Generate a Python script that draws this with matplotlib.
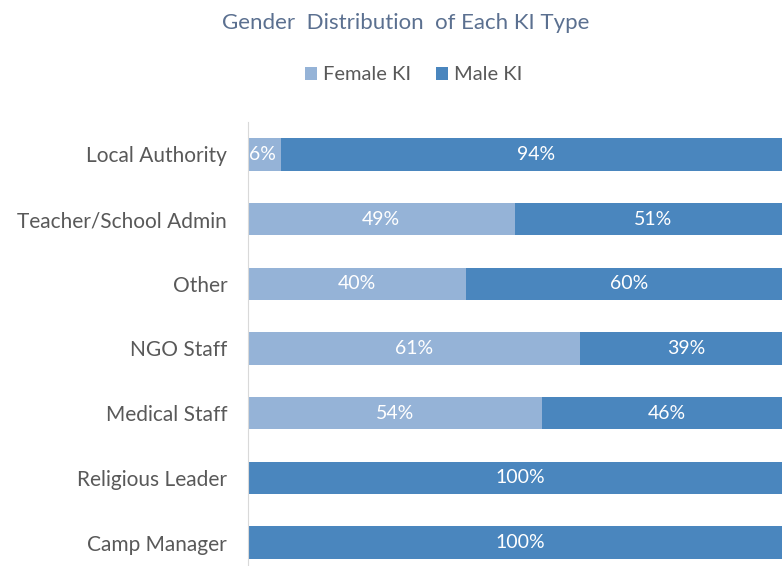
import numpy as np
import matplotlib
matplotlib.use("Agg")
import matplotlib.pyplot as plt

plt.rcParams['font.family'] = ['Lato', 'DejaVu Sans']

categories = ['Local Authority', 'Teacher/School Admin', 'Other', 'NGO Staff',
              'Medical Staff', 'Religious Leader', 'Camp Manager']
female = [6, 49, 40, 61, 54, 0, 0]
male = [94, 51, 60, 39, 46, 100, 100]

c_female = '#95B3D7'
c_male = '#4A86BE'

fig = plt.figure(figsize=(7.82, 5.66), dpi=100)
ax = fig.add_axes([248/782, -9/566, 544/782, 453/566])

y = np.arange(len(categories))
fem = np.array(female) / 100
mal = np.array(male) / 100
b1 = ax.barh(y, fem, height=0.5, color=c_female, label='Female KI')
b2 = ax.barh(y, mal, left=fem, height=0.5, color=c_male, label='Male KI')

for i in range(len(categories)):
    if female[i] > 0:
        if female[i] < 10:
            ax.text(0.002, y[i], '%d%%' % female[i], color='white', va='center', ha='left', fontsize=14)
        else:
            ax.text(fem[i] / 2, y[i], '%d%%' % female[i], color='white', va='center', ha='center', fontsize=14)
    if male[i] > 0:
        ax.text(fem[i] + mal[i] / 2, y[i], '%d%%' % male[i], color='white', va='center', ha='center', fontsize=14)

ax.set_xlim(0, 1)
ax.set_ylim(len(categories) - 0.5, -0.5)
ax.set_yticks(y)
ax.set_yticklabels(categories, fontsize=15, color='#595959')
ax.tick_params(axis='y', length=0, pad=15)
ax.set_xticks([])
for s in ['top', 'right', 'bottom']:
    ax.spines[s].set_visible(False)
ax.spines['left'].set_color('#D9D9D9')

fig.text(0.519, 0.96, 'Gender  Distribution  of Each KI Type', ha='center', va='center',
         fontsize=16, color='#5B7090')
fig.legend(handles=[b1, b2], loc='center', bbox_to_anchor=(0.529, 0.868), ncol=2,
           frameon=False, fontsize=14.5, labelcolor='#595959', handlelength=0.6,
           handleheight=0.6, handletextpad=0.3, columnspacing=1.2)

fig.savefig('out.png', dpi=100)
